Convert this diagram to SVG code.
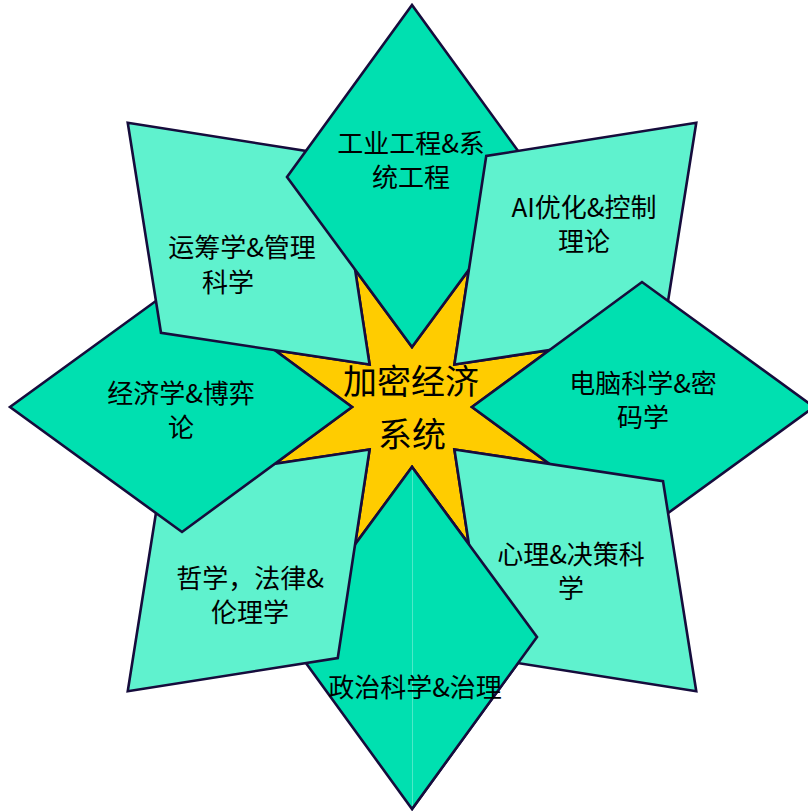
<svg xmlns="http://www.w3.org/2000/svg" width="808" height="812" viewBox="0 0 808 812">
<style>
.d{fill:#00E0B0;stroke:#160C3C;stroke-width:2.6;stroke-linejoin:miter}
.q{fill:#5FF2CE;stroke:#160C3C;stroke-width:2.6;stroke-linejoin:miter}
.s{fill:#FFCC00;stroke:#160C3C;stroke-width:2.6}
text{font-family:"Noto Sans CJK SC","Noto Sans",sans-serif;font-size:26px;fill:#000;text-anchor:middle}
.c{font-size:34px}
</style>
<defs>
<clipPath id="rh"><rect x="412" y="440" width="200" height="380"/></clipPath>
</defs>
<g id="center-star">
<polygon class="s" points="412,347 468.91,269.62 454.43,364.57 549.38,350.09 472,407 549.38,463.91 454.43,449.43 468.91,544.38 412,467 355.09,544.38 369.57,449.43 274.62,463.91 352,407 274.62,350.09 369.57,364.57 355.09,269.62"/>
</g>
<g id="node-bottom">
<polygon class="d" points="412,467 537,637 412,809 287,637"/>
</g>
<g id="node-bottom-left">
<polygon class="q" points="369.57,449.43 337.76,658.02 127.74,691.26 160.98,481.24"/>
<text x="250" y="588">哲学，法律&amp;</text>
<text x="250" y="622">伦理学</text>
</g>
<g id="node-left">
<polygon class="d" points="352,407 182,532 10,407 182,282"/>
<text x="181" y="403">经济学&amp;博弈</text>
<text x="181" y="437">论</text>
</g>
<g id="node-top-left">
<polygon class="q" points="369.57,364.57 160.98,332.76 127.74,122.74 337.76,155.98"/>
<text x="242" y="257">运筹学&amp;管理</text>
<text x="228" y="292">科学</text>
</g>
<g id="node-top">
<polygon class="d" points="412,347 287,177 412,5 537,177"/>
<text x="411" y="153">工业工程&amp;系</text>
<text x="411" y="187">统工程</text>
</g>
<g id="node-top-right">
<polygon class="q" points="454.43,364.57 486.24,155.98 696.26,122.74 663.02,332.76"/>
<text x="584" y="217">AI优化&amp;控制</text>
<text x="584" y="251">理论</text>
</g>
<g id="node-right">
<polygon class="d" points="472,407 642,282 814,407 642,532"/>
<text x="643" y="393">电脑科学&amp;密</text>
<text x="643" y="427">码学</text>
</g>
<g id="node-bottom-right">
<polygon class="q" points="454.43,449.43 663.02,481.24 696.26,691.26 486.24,658.02"/>
<text x="571" y="564">心理&amp;决策科</text>
<text x="571" y="598">学</text>
</g>
<g id="node-bottom-front">
<polygon class="d" clip-path="url(#rh)" points="412,467 537,637 412,809 287,637"/>
<line x1="412.5" y1="470" x2="412.5" y2="806" stroke="#ffffff" stroke-opacity="0.3" stroke-width="1"/>
<text x="415" y="697">政治科学&amp;治理</text>
</g>
<g id="center-label">
<text class="c" x="411" y="394">加密经济</text>
<text class="c" x="412" y="447">系统</text>
</g>
<g id="connectors"/>
</svg>
